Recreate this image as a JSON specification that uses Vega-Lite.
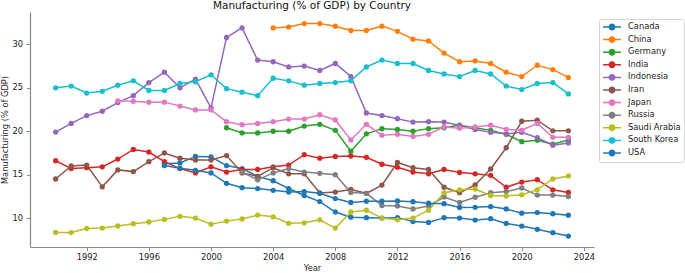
{
"$schema": "https://vega.github.io/schema/vega-lite/v6.json",
"width": 564, "height": 235,
"autosize": {"type": "none"},
"padding": {"left": 30, "top": 12, "right": 91, "bottom": 26},
"background": "white",
"title": {"text": "Manufacturing (% of GDP) by Country", "fontSize": 10.5, "font": "DejaVu Sans", "fontWeight": "normal", "color": "#111", "anchor": "middle", "offset": 0.5},
"config": {
  "view": {"stroke": null},
  "axis": {"labelFont": "DejaVu Sans", "labelFontSize": 8.3, "labelColor": "#222", "titleFont": "DejaVu Sans", "titleFontSize": 8.3, "titleFontWeight": "normal", "titleColor": "#222", "domainColor": "#888", "domainWidth": 1.2, "tickColor": "#888", "tickSize": 3.5, "tickWidth": 1, "grid": false}
},
"datasets": {"d": [
{"country":"Canada","year":1997,"value":16.25},{"country":"Canada","year":1998,"value":16.35},{"country":"Canada","year":1999,"value":17.1},{"country":"Canada","year":2000,"value":17.05},{"country":"Canada","year":2001,"value":16.05},{"country":"Canada","year":2002,"value":15.7},{"country":"Canada","year":2003,"value":14.8},{"country":"Canada","year":2004,"value":14.3},{"country":"Canada","year":2005,"value":13.4},{"country":"Canada","year":2006,"value":12.6},{"country":"Canada","year":2007,"value":11.9},{"country":"Canada","year":2008,"value":10.7},{"country":"Canada","year":2009,"value":10.1},{"country":"Canada","year":2010,"value":10.05},{"country":"Canada","year":2011,"value":10.0},{"country":"Canada","year":2012,"value":10.05},{"country":"Canada","year":2013,"value":9.6},{"country":"Canada","year":2014,"value":9.5},{"country":"Canada","year":2015,"value":10.05},{"country":"Canada","year":2016,"value":10.0},{"country":"Canada","year":2017,"value":9.77},{"country":"Canada","year":2018,"value":9.93},{"country":"Canada","year":2019,"value":9.38},{"country":"Canada","year":2020,"value":9.08},{"country":"Canada","year":2021,"value":8.71},{"country":"Canada","year":2022,"value":8.32},{"country":"Canada","year":2023,"value":7.93},
{"country":"China","year":2004,"value":31.9},{"country":"China","year":2005,"value":32.0},{"country":"China","year":2006,"value":32.4},{"country":"China","year":2007,"value":32.4},{"country":"China","year":2008,"value":32.1},{"country":"China","year":2009,"value":31.6},{"country":"China","year":2010,"value":31.6},{"country":"China","year":2011,"value":32.1},{"country":"China","year":2012,"value":31.5},{"country":"China","year":2013,"value":30.6},{"country":"China","year":2014,"value":30.4},{"country":"China","year":2015,"value":29.0},{"country":"China","year":2016,"value":28.0},{"country":"China","year":2017,"value":28.1},{"country":"China","year":2018,"value":27.8},{"country":"China","year":2019,"value":26.8},{"country":"China","year":2020,"value":26.3},{"country":"China","year":2021,"value":27.6},{"country":"China","year":2022,"value":27.1},{"country":"China","year":2023,"value":26.2},
{"country":"Germany","year":2001,"value":20.4},{"country":"Germany","year":2002,"value":19.8},{"country":"Germany","year":2003,"value":19.8},{"country":"Germany","year":2004,"value":20.0},{"country":"Germany","year":2005,"value":20.0},{"country":"Germany","year":2006,"value":20.6},{"country":"Germany","year":2007,"value":20.8},{"country":"Germany","year":2008,"value":20.1},{"country":"Germany","year":2009,"value":17.7},{"country":"Germany","year":2010,"value":19.7},{"country":"Germany","year":2011,"value":20.3},{"country":"Germany","year":2012,"value":20.2},{"country":"Germany","year":2013,"value":20.0},{"country":"Germany","year":2014,"value":20.3},{"country":"Germany","year":2015,"value":20.4},{"country":"Germany","year":2016,"value":20.7},{"country":"Germany","year":2017,"value":20.4},{"country":"Germany","year":2018,"value":20.1},{"country":"Germany","year":2019,"value":19.65},{"country":"Germany","year":2020,"value":18.8},{"country":"Germany","year":2021,"value":18.95},{"country":"Germany","year":2022,"value":18.5},{"country":"Germany","year":2023,"value":19.0},
{"country":"India","year":1990,"value":16.6},{"country":"India","year":1991,"value":15.7},{"country":"India","year":1992,"value":15.8},{"country":"India","year":1993,"value":15.9},{"country":"India","year":1994,"value":16.8},{"country":"India","year":1995,"value":17.9},{"country":"India","year":1996,"value":17.6},{"country":"India","year":1997,"value":16.5},{"country":"India","year":1998,"value":15.7},{"country":"India","year":1999,"value":15.2},{"country":"India","year":2000,"value":15.9},{"country":"India","year":2001,"value":15.3},{"country":"India","year":2002,"value":15.6},{"country":"India","year":2003,"value":15.6},{"country":"India","year":2004,"value":15.9},{"country":"India","year":2005,"value":16.1},{"country":"India","year":2006,"value":17.3},{"country":"India","year":2007,"value":16.9},{"country":"India","year":2008,"value":17.1},{"country":"India","year":2009,"value":17.15},{"country":"India","year":2010,"value":17.0},{"country":"India","year":2011,"value":16.2},{"country":"India","year":2012,"value":15.85},{"country":"India","year":2013,"value":15.3},{"country":"India","year":2014,"value":15.1},{"country":"India","year":2015,"value":15.6},{"country":"India","year":2016,"value":15.25},{"country":"India","year":2017,"value":15.1},{"country":"India","year":2018,"value":14.92},{"country":"India","year":2019,"value":13.55},{"country":"India","year":2020,"value":14.15},{"country":"India","year":2021,"value":14.42},{"country":"India","year":2022,"value":13.25},{"country":"India","year":2023,"value":12.95},
{"country":"Indonesia","year":1990,"value":19.9},{"country":"Indonesia","year":1991,"value":20.9},{"country":"Indonesia","year":1992,"value":21.8},{"country":"Indonesia","year":1993,"value":22.3},{"country":"Indonesia","year":1994,"value":23.3},{"country":"Indonesia","year":1995,"value":24.1},{"country":"Indonesia","year":1996,"value":25.6},{"country":"Indonesia","year":1997,"value":26.8},{"country":"Indonesia","year":1998,"value":25.0},{"country":"Indonesia","year":1999,"value":26.0},{"country":"Indonesia","year":2000,"value":22.7},{"country":"Indonesia","year":2001,"value":30.8},{"country":"Indonesia","year":2002,"value":31.9},{"country":"Indonesia","year":2003,"value":28.2},{"country":"Indonesia","year":2004,"value":28.0},{"country":"Indonesia","year":2005,"value":27.4},{"country":"Indonesia","year":2006,"value":27.5},{"country":"Indonesia","year":2007,"value":27.0},{"country":"Indonesia","year":2008,"value":27.8},{"country":"Indonesia","year":2009,"value":26.3},{"country":"Indonesia","year":2010,"value":22.1},{"country":"Indonesia","year":2011,"value":21.8},{"country":"Indonesia","year":2012,"value":21.45},{"country":"Indonesia","year":2013,"value":21.05},{"country":"Indonesia","year":2014,"value":21.1},{"country":"Indonesia","year":2015,"value":21.05},{"country":"Indonesia","year":2016,"value":20.65},{"country":"Indonesia","year":2017,"value":20.2},{"country":"Indonesia","year":2018,"value":19.87},{"country":"Indonesia","year":2019,"value":19.7},{"country":"Indonesia","year":2020,"value":19.87},{"country":"Indonesia","year":2021,"value":19.25},{"country":"Indonesia","year":2022,"value":18.4},{"country":"Indonesia","year":2023,"value":18.65},
{"country":"Iran","year":1990,"value":14.5},{"country":"Iran","year":1991,"value":16.0},{"country":"Iran","year":1992,"value":16.1},{"country":"Iran","year":1993,"value":13.6},{"country":"Iran","year":1994,"value":15.55},{"country":"Iran","year":1995,"value":15.35},{"country":"Iran","year":1996,"value":16.5},{"country":"Iran","year":1997,"value":17.5},{"country":"Iran","year":1998,"value":16.9},{"country":"Iran","year":1999,"value":16.7},{"country":"Iran","year":2000,"value":16.7},{"country":"Iran","year":2001,"value":17.2},{"country":"Iran","year":2002,"value":15.2},{"country":"Iran","year":2003,"value":14.8},{"country":"Iran","year":2004,"value":15.8},{"country":"Iran","year":2005,"value":15.1},{"country":"Iran","year":2006,"value":15.1},{"country":"Iran","year":2007,"value":12.9},{"country":"Iran","year":2008,"value":13.0},{"country":"Iran","year":2009,"value":13.3},{"country":"Iran","year":2010,"value":12.85},{"country":"Iran","year":2011,"value":13.8},{"country":"Iran","year":2012,"value":16.4},{"country":"Iran","year":2013,"value":15.8},{"country":"Iran","year":2014,"value":15.6},{"country":"Iran","year":2015,"value":13.55},{"country":"Iran","year":2016,"value":12.93},{"country":"Iran","year":2017,"value":13.83},{"country":"Iran","year":2018,"value":15.65},{"country":"Iran","year":2019,"value":18.1},{"country":"Iran","year":2020,"value":21.15},{"country":"Iran","year":2021,"value":21.27},{"country":"Iran","year":2022,"value":20.05},{"country":"Iran","year":2023,"value":20.05},
{"country":"Japan","year":1994,"value":23.5},{"country":"Japan","year":1995,"value":23.45},{"country":"Japan","year":1996,"value":23.35},{"country":"Japan","year":1997,"value":23.35},{"country":"Japan","year":1998,"value":22.9},{"country":"Japan","year":1999,"value":22.45},{"country":"Japan","year":2000,"value":22.45},{"country":"Japan","year":2001,"value":21.1},{"country":"Japan","year":2002,"value":20.75},{"country":"Japan","year":2003,"value":20.9},{"country":"Japan","year":2004,"value":21.1},{"country":"Japan","year":2005,"value":21.4},{"country":"Japan","year":2006,"value":21.4},{"country":"Japan","year":2007,"value":21.9},{"country":"Japan","year":2008,"value":21.3},{"country":"Japan","year":2009,"value":19.0},{"country":"Japan","year":2010,"value":20.8},{"country":"Japan","year":2011,"value":19.55},{"country":"Japan","year":2012,"value":19.65},{"country":"Japan","year":2013,"value":19.4},{"country":"Japan","year":2014,"value":19.65},{"country":"Japan","year":2015,"value":20.5},{"country":"Japan","year":2016,"value":20.35},{"country":"Japan","year":2017,"value":20.5},{"country":"Japan","year":2018,"value":20.7},{"country":"Japan","year":2019,"value":20.22},{"country":"Japan","year":2020,"value":20.12},{"country":"Japan","year":2021,"value":20.9},{"country":"Japan","year":2022,"value":19.3},{"country":"Japan","year":2023,"value":19.3},
{"country":"Russia","year":2002,"value":15.3},{"country":"Russia","year":2003,"value":14.4},{"country":"Russia","year":2004,"value":15.2},{"country":"Russia","year":2005,"value":15.7},{"country":"Russia","year":2006,"value":15.3},{"country":"Russia","year":2007,"value":15.15},{"country":"Russia","year":2008,"value":15.0},{"country":"Russia","year":2009,"value":12.95},{"country":"Russia","year":2010,"value":12.85},{"country":"Russia","year":2011,"value":11.45},{"country":"Russia","year":2012,"value":11.4},{"country":"Russia","year":2013,"value":11.05},{"country":"Russia","year":2014,"value":11.4},{"country":"Russia","year":2015,"value":12.43},{"country":"Russia","year":2016,"value":11.8},{"country":"Russia","year":2017,"value":12.4},{"country":"Russia","year":2018,"value":12.92},{"country":"Russia","year":2019,"value":13.05},{"country":"Russia","year":2020,"value":13.47},{"country":"Russia","year":2021,"value":12.65},{"country":"Russia","year":2022,"value":12.65},{"country":"Russia","year":2023,"value":12.48},
{"country":"Saudi Arabia","year":1990,"value":8.35},{"country":"Saudi Arabia","year":1991,"value":8.33},{"country":"Saudi Arabia","year":1992,"value":8.8},{"country":"Saudi Arabia","year":1993,"value":8.85},{"country":"Saudi Arabia","year":1994,"value":9.1},{"country":"Saudi Arabia","year":1995,"value":9.35},{"country":"Saudi Arabia","year":1996,"value":9.55},{"country":"Saudi Arabia","year":1997,"value":9.85},{"country":"Saudi Arabia","year":1998,"value":10.2},{"country":"Saudi Arabia","year":1999,"value":10.0},{"country":"Saudi Arabia","year":2000,"value":9.3},{"country":"Saudi Arabia","year":2001,"value":9.65},{"country":"Saudi Arabia","year":2002,"value":9.9},{"country":"Saudi Arabia","year":2003,"value":10.35},{"country":"Saudi Arabia","year":2004,"value":10.15},{"country":"Saudi Arabia","year":2005,"value":9.4},{"country":"Saudi Arabia","year":2006,"value":9.45},{"country":"Saudi Arabia","year":2007,"value":9.8},{"country":"Saudi Arabia","year":2008,"value":8.85},{"country":"Saudi Arabia","year":2009,"value":10.7},{"country":"Saudi Arabia","year":2010,"value":10.9},{"country":"Saudi Arabia","year":2011,"value":10.0},{"country":"Saudi Arabia","year":2012,"value":9.8},{"country":"Saudi Arabia","year":2013,"value":10.0},{"country":"Saudi Arabia","year":2014,"value":10.9},{"country":"Saudi Arabia","year":2015,"value":12.9},{"country":"Saudi Arabia","year":2016,"value":13.25},{"country":"Saudi Arabia","year":2017,"value":13.35},{"country":"Saudi Arabia","year":2018,"value":12.6},{"country":"Saudi Arabia","year":2019,"value":12.55},{"country":"Saudi Arabia","year":2020,"value":12.68},{"country":"Saudi Arabia","year":2021,"value":13.27},{"country":"Saudi Arabia","year":2022,"value":14.5},{"country":"Saudi Arabia","year":2023,"value":14.85},
{"country":"South Korea","year":1990,"value":25.0},{"country":"South Korea","year":1991,"value":25.2},{"country":"South Korea","year":1992,"value":24.4},{"country":"South Korea","year":1993,"value":24.6},{"country":"South Korea","year":1994,"value":25.3},{"country":"South Korea","year":1995,"value":25.8},{"country":"South Korea","year":1996,"value":24.7},{"country":"South Korea","year":1997,"value":24.7},{"country":"South Korea","year":1998,"value":25.5},{"country":"South Korea","year":1999,"value":25.7},{"country":"South Korea","year":2000,"value":26.5},{"country":"South Korea","year":2001,"value":24.9},{"country":"South Korea","year":2002,"value":24.5},{"country":"South Korea","year":2003,"value":24.1},{"country":"South Korea","year":2004,"value":26.1},{"country":"South Korea","year":2005,"value":25.8},{"country":"South Korea","year":2006,"value":25.3},{"country":"South Korea","year":2007,"value":25.5},{"country":"South Korea","year":2008,"value":25.6},{"country":"South Korea","year":2009,"value":25.8},{"country":"South Korea","year":2010,"value":27.4},{"country":"South Korea","year":2011,"value":28.2},{"country":"South Korea","year":2012,"value":27.8},{"country":"South Korea","year":2013,"value":27.8},{"country":"South Korea","year":2014,"value":27.0},{"country":"South Korea","year":2015,"value":26.6},{"country":"South Korea","year":2016,"value":26.3},{"country":"South Korea","year":2017,"value":27.0},{"country":"South Korea","year":2018,"value":26.6},{"country":"South Korea","year":2019,"value":25.2},{"country":"South Korea","year":2020,"value":24.8},{"country":"South Korea","year":2021,"value":25.5},{"country":"South Korea","year":2022,"value":25.6},{"country":"South Korea","year":2023,"value":24.3},
{"country":"USA","year":1997,"value":16.05},{"country":"USA","year":1998,"value":15.75},{"country":"USA","year":1999,"value":15.5},{"country":"USA","year":2000,"value":15.2},{"country":"USA","year":2001,"value":14.0},{"country":"USA","year":2002,"value":13.5},{"country":"USA","year":2003,"value":13.4},{"country":"USA","year":2004,"value":13.2},{"country":"USA","year":2005,"value":13.0},{"country":"USA","year":2006,"value":13.05},{"country":"USA","year":2007,"value":12.85},{"country":"USA","year":2008,"value":12.25},{"country":"USA","year":2009,"value":11.8},{"country":"USA","year":2010,"value":11.95},{"country":"USA","year":2011,"value":11.95},{"country":"USA","year":2012,"value":11.98},{"country":"USA","year":2013,"value":11.88},{"country":"USA","year":2014,"value":11.72},{"country":"USA","year":2015,"value":11.66},{"country":"USA","year":2016,"value":11.22},{"country":"USA","year":2017,"value":11.24},{"country":"USA","year":2018,"value":11.33},{"country":"USA","year":2019,"value":11.05},{"country":"USA","year":2020,"value":10.57},{"country":"USA","year":2021,"value":10.64},{"country":"USA","year":2022,"value":10.5},{"country":"USA","year":2023,"value":10.33}
]},
"data": {"name": "d"},
"encoding": {
  "x": {"field": "year", "type": "quantitative", "scale": {"domain": [1988.35, 2024.65], "nice": false, "zero": false}, "axis": {"values": [1992, 1996, 2000, 2004, 2008, 2012, 2016, 2020, 2024], "format": "d", "title": "Year", "labelPadding": 2, "titlePadding": 3, "labelFlush": false}},
  "y": {"field": "value", "type": "quantitative", "scale": {"domain": [6.67, 33.73], "nice": false, "zero": false}, "axis": {"values": [10, 15, 20, 25, 30], "title": "Manufacturing (% of GDP)", "labelPadding": 4, "titlePadding": 2}},
  "color": {"field": "country", "type": "nominal",
    "scale": {"domain": ["Canada", "China", "Germany", "India", "Indonesia", "Iran", "Japan", "Russia", "Saudi Arabia", "South Korea", "USA"],
              "range": ["#1f77b4", "#ff7f0e", "#2ca02c", "#d62728", "#9467bd", "#8c564b", "#e377c2", "#7f7f7f", "#bcbd22", "#17becf", "#1f77b4"]},
    "legend": {"orient": "none", "legendX": 569, "legendY": 7, "title": null, "labelFont": "DejaVu Sans", "labelFontSize": 8.3, "labelColor": "#222",
      "symbolType": "M-2.25,0H2.25M-0.68,0A0.68,0.68 0 1,1 0.68,0A0.68,0.68 0 1,1 -0.68,0Z", "symbolSize": 64, "symbolStrokeWidth": 1.5,
      "symbolOffset": 5, "labelOffset": 11,
      "fillColor": "rgba(255,255,255,0.85)", "strokeColor": "#d6d6d6", "cornerRadius": 2, "padding": 3, "rowPadding": 0.6,
      "encode": {"symbols": {"update": {"fill": {"scale": "color", "field": "value"}, "stroke": {"scale": "color", "field": "value"}, "opacity": {"value": 1}}}}}
  }
},
"layer": [
  {"mark": {"type": "line", "strokeWidth": 1.5}},
  {"mark": {"type": "point", "filled": true, "size": 28, "opacity": 1}}
]
}
